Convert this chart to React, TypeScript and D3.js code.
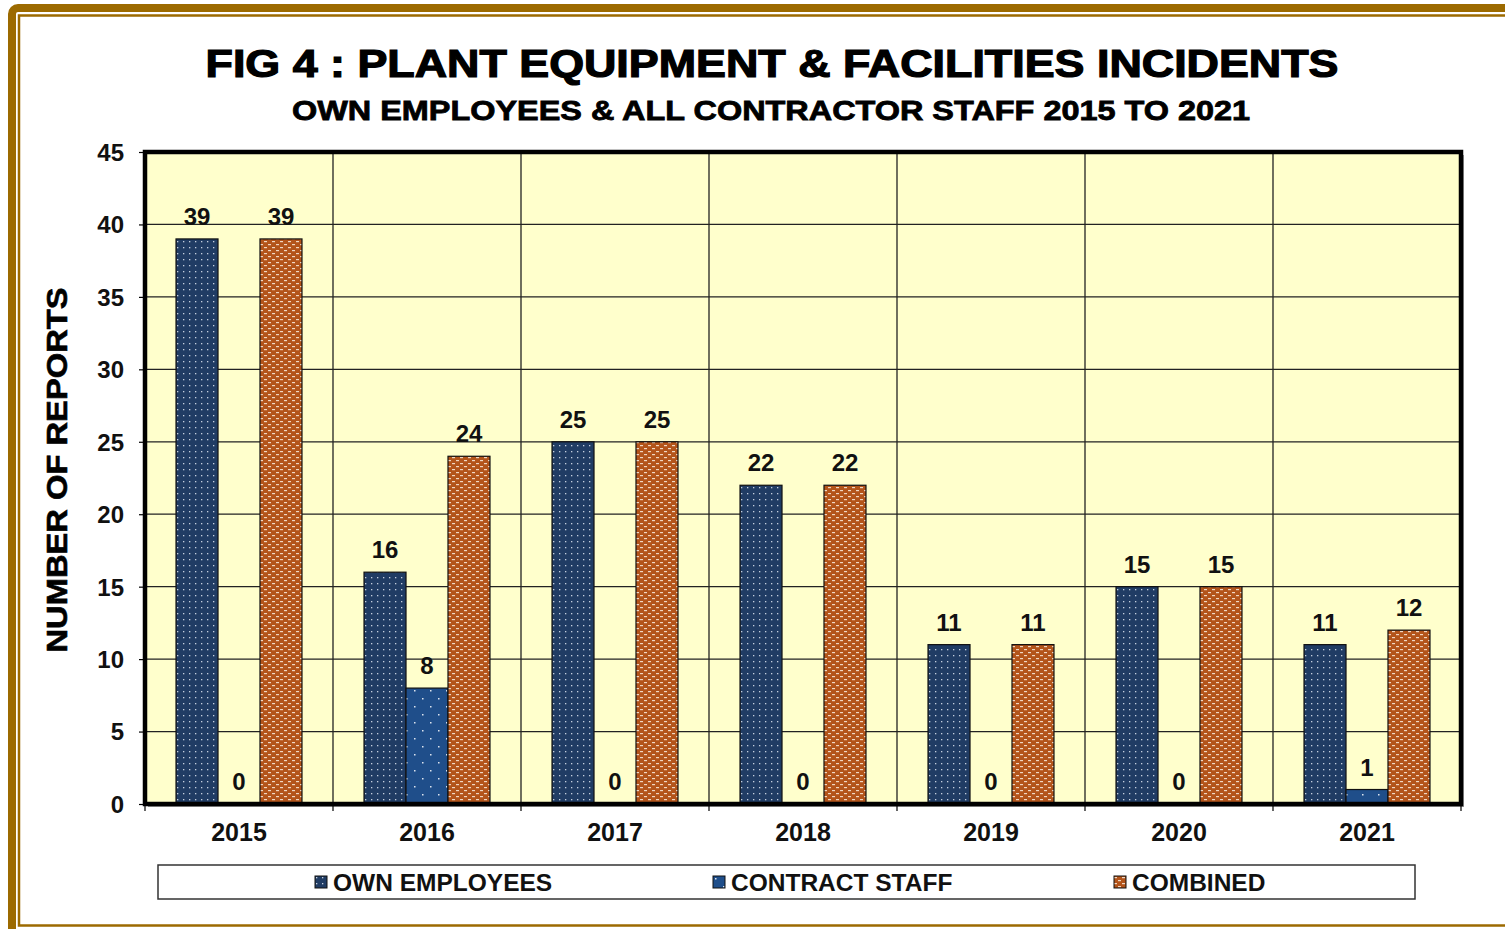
import { useRef, useEffect } from 'react';
import * as d3 from 'd3';

const YEARS = ['2015', '2016', '2017', '2018', '2019', '2020', '2021'];
const OWN_EMPLOYEES = [39, 16, 25, 22, 11, 15, 11];
const CONTRACT_STAFF = [0, 8, 0, 0, 0, 0, 1];
const COMBINED = [39, 24, 25, 22, 11, 15, 12];
const SERIES_NAMES = ['OWN EMPLOYEES', 'CONTRACT STAFF', 'COMBINED'];
const Y_TICKS = [0, 5, 10, 15, 20, 25, 30, 35, 40, 45];

const W = 1505;
const H = 929;
const FONT = '"Liberation Sans", Arial, sans-serif';
const BROWN = '#9c6a00';

const margin = { left: 145, top: 152, right: 44, bottom: 125 };

export default function App() {
  const svgRef = useRef<SVGSVGElement>(null);

  useEffect(() => {
    if (!svgRef.current) return;
    const svg = d3.select(svgRef.current);
    svg.selectAll('*').remove();

    const defs = svg.append('defs');

    // own employees: dark navy with small white dots
    const pOwn = defs.append('pattern').attr('id', 'pOwn').attr('patternUnits', 'userSpaceOnUse')
      .attr('width', 6).attr('height', 6);
    pOwn.append('rect').attr('width', 6).attr('height', 6).attr('fill', '#203c64');
    pOwn.append('rect').attr('x', 1).attr('y', 1).attr('width', 1.3).attr('height', 1.3).attr('fill', '#c8d2e0');

    // contract staff: blue with sparse white dots
    const pCon = defs.append('pattern').attr('id', 'pCon').attr('patternUnits', 'userSpaceOnUse')
      .attr('width', 16).attr('height', 16);
    pCon.append('rect').attr('width', 16).attr('height', 16).attr('fill', '#1f4e8a');
    pCon.append('rect').attr('x', 2).attr('y', 2).attr('width', 1.5).attr('height', 1.5).attr('fill', '#dfe6f0');
    pCon.append('rect').attr('x', 10).attr('y', 10).attr('width', 1.5).attr('height', 1.5).attr('fill', '#dfe6f0');

    // combined: brown with white brick dashes
    const pCom = defs.append('pattern').attr('id', 'pCom').attr('patternUnits', 'userSpaceOnUse')
      .attr('width', 8).attr('height', 6);
    pCom.append('rect').attr('width', 8).attr('height', 6).attr('fill', '#b3541a');
    pCom.append('rect').attr('x', 0).attr('y', 1).attr('width', 3).attr('height', 1.2).attr('fill', '#f0d8c4');
    pCom.append('rect').attr('x', 4).attr('y', 4).attr('width', 3).attr('height', 1.2).attr('fill', '#f0d8c4');

    const fills = ['url(#pOwn)', 'url(#pCon)', 'url(#pCom)'];
    const seriesData = [OWN_EMPLOYEES, CONTRACT_STAFF, COMBINED];

    // frame
    svg.append('rect').attr('x', 12).attr('y', 8).attr('width', W + 20).attr('height', H + 20)
      .attr('rx', 6).attr('fill', 'none').attr('stroke', BROWN).attr('stroke-width', 8);
    svg.append('rect').attr('x', 19).attr('y', 15.5).attr('width', W).attr('height', 910)
      .attr('fill', 'none').attr('stroke', BROWN).attr('stroke-width', 2.5);

    const x0 = d3.scaleBand<string>().domain(YEARS)
      .range([margin.left, W - margin.right]).paddingInner(0.33).paddingOuter(0.165);
    const x1 = d3.scaleBand<number>().domain([0, 1, 2]).range([0, x0.bandwidth()]);
    const y = d3.scaleLinear().domain([0, 45]).range([H - margin.bottom, margin.top]);

    const left = margin.left;
    const right = W - margin.right;
    const top = margin.top;
    const bottom = H - margin.bottom;
    const step = x0.step();

    // shadow + plot background
    svg.append('rect').attr('x', left + 3).attr('y', top + 3).attr('width', right - left).attr('height', bottom - top)
      .attr('fill', '#9a9a9a');
    svg.append('rect').attr('x', left).attr('y', top).attr('width', right - left).attr('height', bottom - top)
      .attr('fill', '#ffffcc');

    // horizontal grid
    svg.append('g').selectAll('line').data(Y_TICKS.slice(1, -1)).join('line')
      .attr('x1', left).attr('x2', right).attr('y1', d => y(d)).attr('y2', d => y(d))
      .attr('stroke', '#222').attr('stroke-width', 1.3);

    // vertical grid at category boundaries
    svg.append('g').selectAll('line').data(YEARS.slice(1)).join('line')
      .attr('x1', d => x0(d)! - step * 0.33 / 2).attr('x2', d => x0(d)! - step * 0.33 / 2)
      .attr('y1', top).attr('y2', bottom)
      .attr('stroke', '#222').attr('stroke-width', 1.3);

    // bars
    const groups = svg.append('g').selectAll('g').data(YEARS).join('g')
      .attr('transform', d => `translate(${x0(d)},0)`);

    groups.each(function (year, i) {
      const g = d3.select(this);
      seriesData.forEach((vals, s) => {
        const v = vals[i];
        if (v > 0) {
          g.append('rect')
            .attr('x', x1(s)!).attr('y', y(v))
            .attr('width', x1.bandwidth()).attr('height', y(0) - y(v))
            .attr('fill', fills[s]).attr('stroke', '#111').attr('stroke-width', 1.2);
        }
        g.append('text')
          .attr('x', x1(s)! + x1.bandwidth() / 2).attr('y', y(v) - 14)
          .attr('text-anchor', 'middle')
          .attr('font-family', FONT).attr('font-weight', 'bold').attr('font-size', 24)
          .attr('fill', '#111').text(String(v));
      });
    });

    // plot border
    svg.append('rect').attr('x', left).attr('y', top).attr('width', right - left).attr('height', bottom - top)
      .attr('fill', 'none').attr('stroke', '#000').attr('stroke-width', 4.5);

    // y axis
    const yAxis = svg.append('g').attr('transform', `translate(${left},0)`)
      .call(d3.axisLeft(y).tickValues(Y_TICKS).tickSize(6).tickPadding(15));
    yAxis.select('.domain').remove();
    yAxis.selectAll('line').attr('stroke', '#000').attr('stroke-width', 1.2);
    yAxis.selectAll('text').attr('font-family', FONT).attr('font-weight', 'bold').attr('font-size', 24)
      .attr('fill', '#111').attr('dy', '0.35em');

    // x axis ticks at boundaries
    const bounds = [left, ...YEARS.slice(1).map(d => x0(d)! - step * 0.33 / 2), right];
    svg.append('g').selectAll('line').data(bounds).join('line')
      .attr('x1', d => d).attr('x2', d => d).attr('y1', bottom).attr('y2', bottom + 7)
      .attr('stroke', '#000').attr('stroke-width', 1.2);
    svg.append('g').selectAll('text').data(YEARS).join('text')
      .attr('x', d => x0(d)! + x0.bandwidth() / 2).attr('y', bottom + 37)
      .attr('text-anchor', 'middle')
      .attr('font-family', FONT).attr('font-weight', 'bold').attr('font-size', 25)
      .attr('fill', '#111').text(d => d);

    // titles
    svg.append('text').attr('x', 772).attr('y', 77).attr('text-anchor', 'middle')
      .attr('font-family', FONT).attr('font-weight', 'bold').attr('font-size', 38)
      .attr('textLength', 1133).attr('lengthAdjust', 'spacingAndGlyphs')
      .attr('fill', '#000').attr('stroke', '#000').attr('stroke-width', 1.2)
      .text('FIG 4 : PLANT EQUIPMENT & FACILITIES INCIDENTS');
    svg.append('text').attr('x', 771).attr('y', 120).attr('text-anchor', 'middle')
      .attr('font-family', FONT).attr('font-weight', 'bold').attr('font-size', 27)
      .attr('textLength', 958).attr('lengthAdjust', 'spacingAndGlyphs')
      .attr('fill', '#000').attr('stroke', '#000').attr('stroke-width', 0.8)
      .text('OWN EMPLOYEES & ALL CONTRACTOR STAFF 2015 TO 2021');

    // y axis title
    svg.append('text').attr('transform', `translate(67,470) rotate(-90)`).attr('text-anchor', 'middle')
      .attr('font-family', FONT).attr('font-weight', 'bold').attr('font-size', 29)
      .attr('textLength', 365).attr('lengthAdjust', 'spacingAndGlyphs')
      .attr('fill', '#000').attr('stroke', '#000').attr('stroke-width', 0.6)
      .text('NUMBER OF REPORTS');

    // legend
    svg.append('rect').attr('x', 158).attr('y', 865).attr('width', 1257).attr('height', 34)
      .attr('fill', '#fff').attr('stroke', '#333').attr('stroke-width', 1.5);
    const legendX = [315, 713, 1114];
    const lg = svg.append('g').selectAll('g').data(SERIES_NAMES).join('g')
      .attr('transform', (_, i) => `translate(${legendX[i]},876)`);
    lg.append('rect').attr('width', 12).attr('height', 12)
      .attr('fill', (_, i) => fills[i]).attr('stroke', '#111').attr('stroke-width', 1);
    lg.append('text').attr('x', 18).attr('y', 14.5)
      .attr('font-family', FONT).attr('font-weight', 'bold').attr('font-size', 24.5)
      .attr('fill', '#111').text(d => d);
  }, []);

  return (
    <svg ref={svgRef} width={W} height={H}
      style={{ position: 'absolute', left: 0, top: 0, background: '#fff', display: 'block' }} />
  );
}
